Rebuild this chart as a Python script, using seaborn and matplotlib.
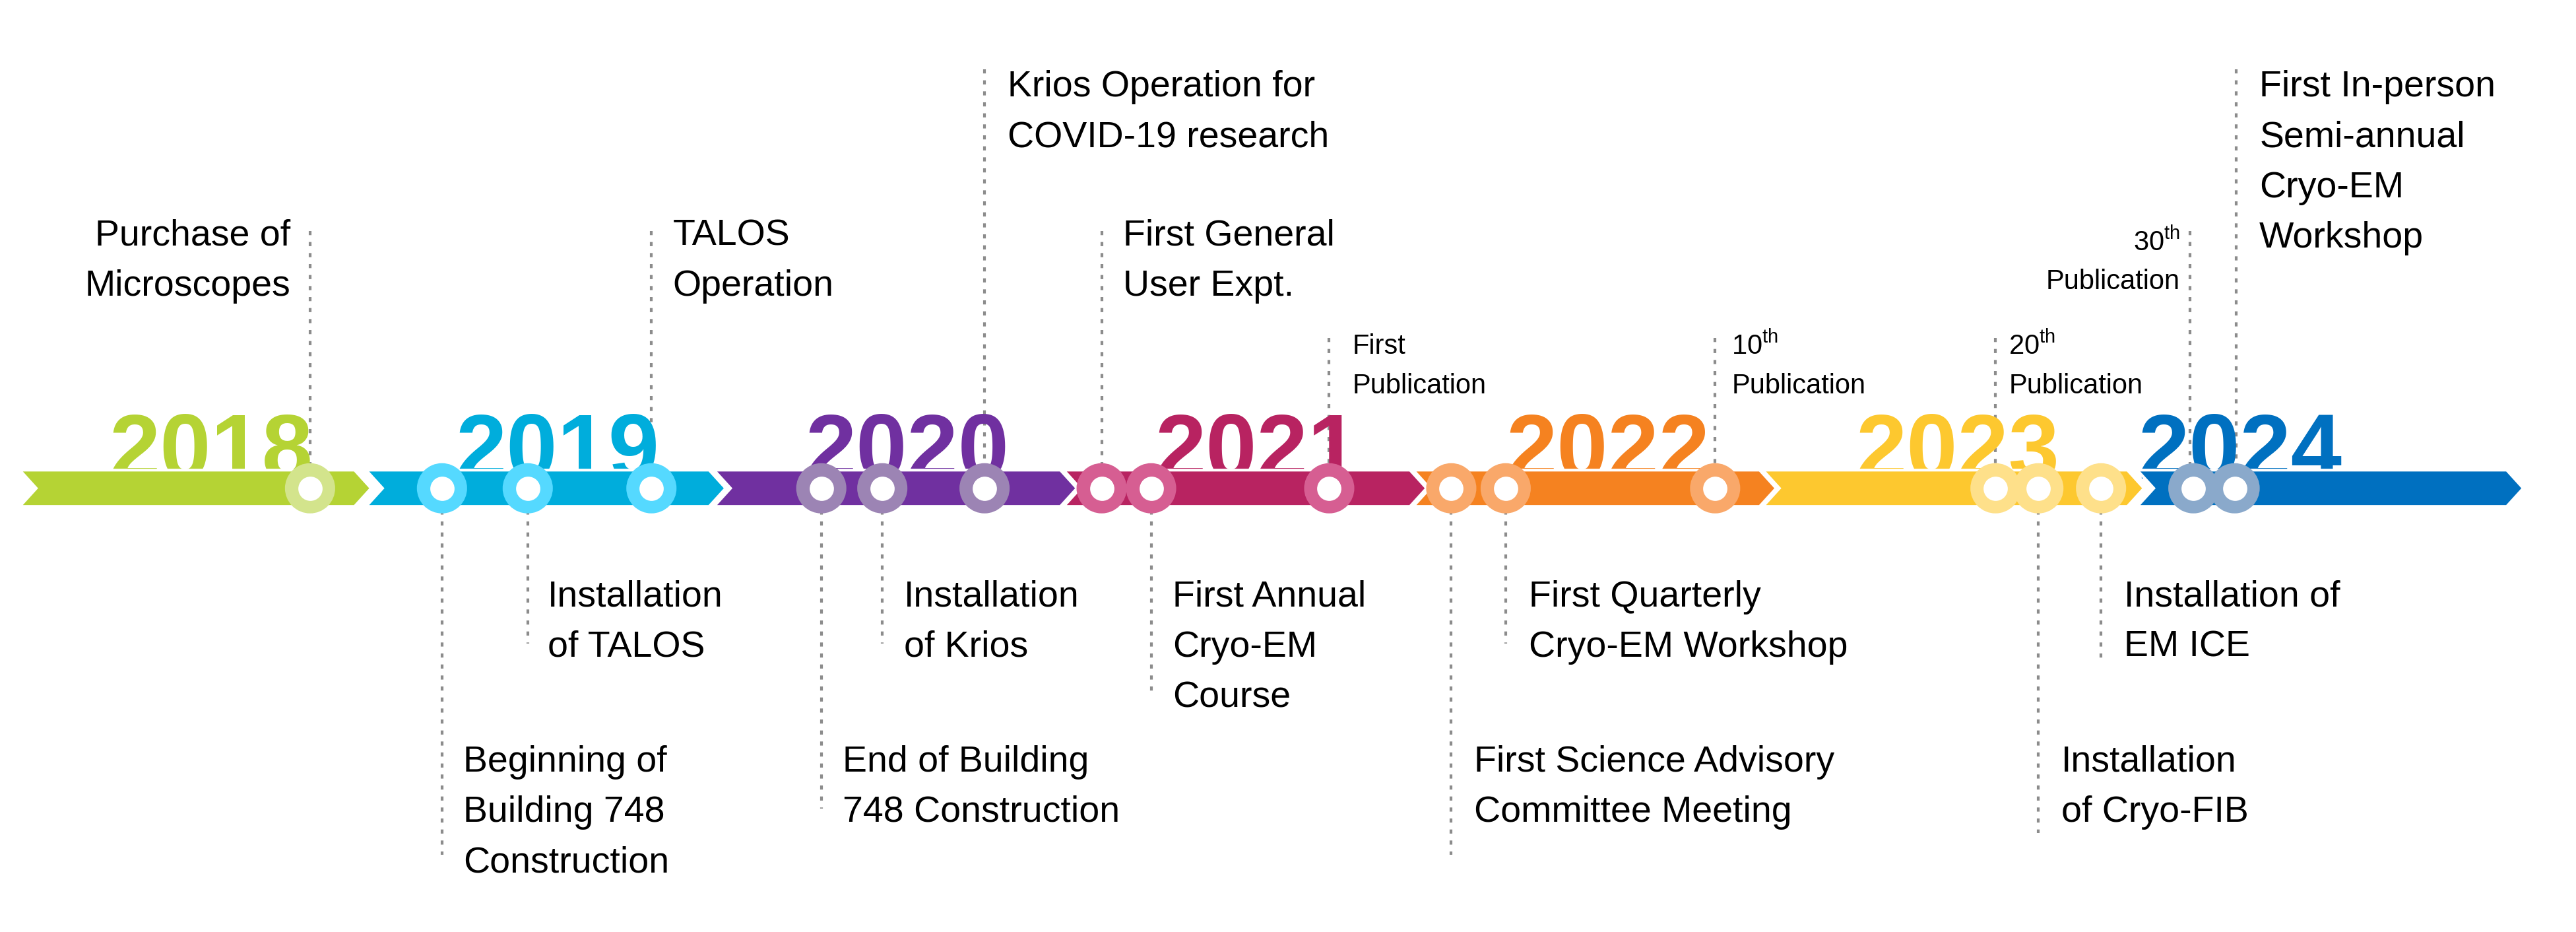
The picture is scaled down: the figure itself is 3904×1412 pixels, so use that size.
import matplotlib
matplotlib.use("Agg")
import matplotlib.pyplot as plt
import seaborn as sns
import pandas as pd
from matplotlib.patches import Polygon

sns.set_style("white")
plt.rcParams["font.family"] = ["Liberation Sans", "DejaVu Sans"]
plt.rcParams["mathtext.fontset"] = "custom"
plt.rcParams["mathtext.rm"] = "Liberation Sans"

# dados
anos = ["2018", "2019", "2020", "2021", "2022", "2023", "2024"]
cores = ["#b5d334", "#00addc", "#7030a0", "#b82361", "#f58220", "#fdc82f", "#0070c0"]
aneis = ["#d3e48c", "#55d9ff", "#9c84b4", "#d65e92", "#f9a86a", "#fee08a", "#8aa9cb"]
inicio = [12, 222, 433, 645, 857, 1069, 1296]
fim = [215, 430, 643, 855, 1067, 1290, 1520]
centro_ano = [128, 338, 550, 762, 975, 1187, 1358]

marcos_x = [188, 268, 320, 395, 498, 535, 597, 668, 698, 806,
            880, 913, 1040, 1210, 1236, 1274, 1330, 1355]
marcos_ano = ["2018", "2019", "2019", "2019", "2020", "2020", "2020", "2021", "2021", "2021",
              "2022", "2022", "2022", "2023", "2023", "2023", "2024", "2024"]

# eventos acima: (x linha, topo linha, x texto, alinhamento, y primeira linha, linhas, pequeno)
acima = [
    (188, 140, 176, "right", 143, ["Purchase of", "Microscopes"], False),
    (395, 140, 408, "left", 143, ["TALOS", "Operation"], False),
    (597, 42, 611, "left", 53, ["Krios Operation for", "COVID-19 research"], False),
    (668, 140, 681, "left", 143, ["First General", "User Expt."], False),
    (806, 205, 820, "left", 210, ["First", "Publication"], True),
    (1040, 205, 1050, "left", 210, ["10$^{\\rm th}$", "Publication"], True),
    (1210, 205, 1218, "left", 210, ["20$^{\\rm th}$", "Publication"], True),
    (1328, 140, 1322, "right", 147, ["30$^{\\rm th}$", "Publication"], True),
    (1356, 42, 1370, "left", 53, ["First In-person", "Semi-annual", "Cryo-EM", "Workshop"], False),
]
abaixo = [
    (268, 518, 281, 462, ["Beginning of", "Building 748", "Construction"]),
    (320, 390, 332, 362, ["Installation", "of TALOS"]),
    (498, 490, 511, 462, ["End of Building", "748 Construction"]),
    (535, 390, 548, 362, ["Installation", "of Krios"]),
    (698, 420, 711, 362, ["First Annual", "Cryo-EM", "Course"]),
    (880, 518, 894, 462, ["First Science Advisory", "Committee Meeting"]),
    (913, 390, 927, 362, ["First Quarterly", "Cryo-EM Workshop"]),
    (1236, 505, 1250, 462, ["Installation", "of Cryo-FIB"]),
    (1274, 400, 1288, 362, ["Installation of", "EM ICE"]),
]

topo, base_y, meio, ponta = 285, 307, 296, 10

fig, ax = plt.subplots(figsize=(39.04, 14.12), dpi=100)
fig.subplots_adjust(0, 0, 1, 1)
ax.set_xlim(0, 1562)
ax.set_ylim(565, 0)
ax.axis("off")

# linhas pontilhadas
for lx, ly, tx, ha, ty, linhas, peq in acima:
    ax.plot([lx, lx], [ly, meio], ls=(0, (1.5, 2.5)), color="#8c8c8c", lw=3, zorder=1)
for lx, ly, tx, ty, linhas in abaixo:
    ax.plot([lx, lx], [meio, ly], ls=(0, (1.5, 2.5)), color="#8c8c8c", lw=3, zorder=1)

# anos
for ano, cx, c in zip(anos, centro_ano, cores):
    ax.text(cx, 290, ano, ha="center", va="baseline", fontsize=100, fontweight="bold",
            color=c, family=["Liberation Sans Narrow", "Liberation Sans"], zorder=2)

# setas
for s, e, c in zip(inicio, fim, cores):
    pts = [(s, topo), (e, topo), (e + ponta, meio), (e, base_y), (s, base_y), (s + ponta, meio)]
    ax.add_patch(Polygon(pts, closed=True, facecolor=c, edgecolor="white", lw=3, zorder=3))

# marcos
df = pd.DataFrame({"x": marcos_x, "y": [meio] * len(marcos_x), "ano": marcos_ano})
sns.scatterplot(data=df, x="x", y="y", hue="ano", palette=dict(zip(anos, aneis)),
                s=3000, linewidth=0, legend=False, ax=ax, zorder=4)
sns.scatterplot(data=df, x="x", y="y", color="white", s=700, linewidth=0,
                legend=False, ax=ax, zorder=5)
ax.set_xlabel("")
ax.set_ylabel("")

# textos
for lx, ly, tx, ha, ty, linhas, peq in acima:
    fs, passo = (30, 24) if peq else (40, 30.5)
    for k, t in enumerate(linhas):
        ax.text(tx, ty + k * passo, t, ha=ha, va="center", fontsize=fs, color="black",
                family=["Liberation Sans Narrow", "Liberation Sans"] if peq else None)
for lx, ly, tx, ty, linhas in abaixo:
    for k, t in enumerate(linhas):
        ax.text(tx, ty + k * 30.5, t, ha="left", va="center", fontsize=40, color="black")

fig.savefig("out.png", dpi=100)
